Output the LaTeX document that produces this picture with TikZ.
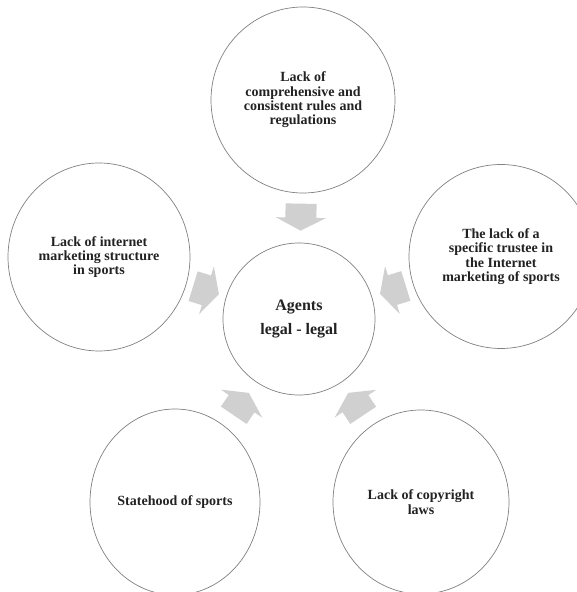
\documentclass[tikz,border=0pt]{standalone}
\usepackage{fontspec}
\setmainfont{Liberation Serif}
\usetikzlibrary{shapes.geometric,calc}
\definecolor{ringgray}{RGB}{128,128,128}
\definecolor{arrowgray}{RGB}{208,208,208}
\definecolor{txtcol}{RGB}{34,34,34}
\newcommand\convarrow[2]{%
  \fill[blockarrow] let \p1=($(#2)-(#1)$), \n1={atan2(\y1,\x1)}, \p2=($(#1)!0.535!(#2)$) in
    [shift={(\p2)}, rotate=\n1]
    (-13.5,-15.5) -- (0.5,-15.5) -- (0.5,-25) -- (13.5,0) -- (0.5,25) -- (0.5,15.5) -- (-13.5,15.5) -- cycle;}
\begin{document}
\begin{tikzpicture}[x=1pt,y=1pt,
  circ/.style={draw=ringgray, line width=0.7pt, fill=white, ellipse, inner sep=0pt,
    align=center, text=txtcol, font=\bfseries\fontsize{14}{14.3}\selectfont},
  hubcirc/.style={circ, font=\bfseries\fontsize{16}{24}\selectfont},
  blockarrow/.style={fill=arrowgray, draw=none}]
\useasboundingbox (0,0) rectangle (577,592);
\clip (0,0) rectangle (577,592);
\node[hubcirc, minimum width=152pt, minimum height=152pt] (C) at (299,273) {Agents\\legal - legal};
\node[circ, minimum width=184pt, minimum height=186pt] (T) at (303,492) {Lack of\\comprehensive and\\consistent rules and\\regulations};
\node[circ, minimum width=182pt, minimum height=188pt] (L) at (99,335) {Lack of internet\\marketing structure\\in sports};
\node[circ, minimum width=184pt, minimum height=184pt] (R) at (501,335.5) {The lack of a\\specific trustee in\\the Internet\\marketing of sports};
\node[circ, minimum width=170pt, minimum height=186pt] (BL) at (175,90) {Statehood of sports};
\node[circ, minimum width=176pt, minimum height=184pt] (BR) at (421,90) {Lack of copyright\\laws};
\convarrow{T}{C}
\convarrow{L}{C}
\convarrow{R}{C}
\convarrow{BL}{C}
\convarrow{BR}{C}
\end{tikzpicture}
\end{document}
